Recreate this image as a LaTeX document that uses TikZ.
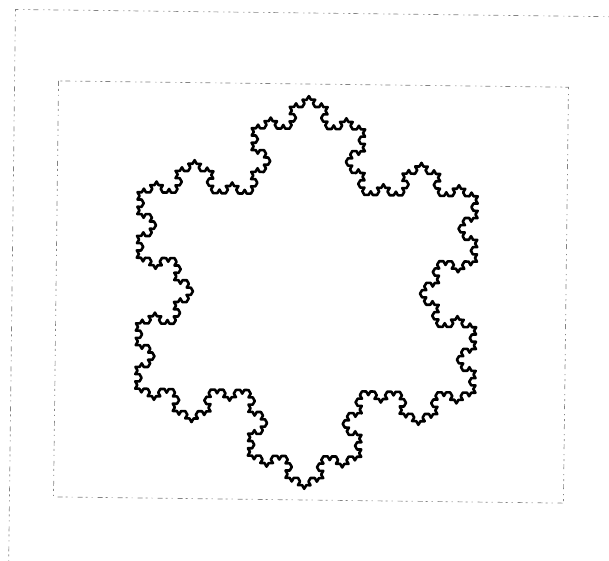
\documentclass[tikz,border=0pt]{standalone}
\usetikzlibrary{decorations.fractals}
\definecolor{scangray}{RGB}{130,130,130}
\tikzstyle{frame} = [draw=scangray, line width=0.7pt, dash pattern=on 5pt off 3pt on 2pt off 4pt on 1pt off 5pt]
\tikzstyle{flake} = [draw=black, line width=2.6pt, line join=round, line cap=round,
                     decoration=Koch snowflake]

\begin{document}
\begin{tikzpicture}[x=1pt, y=-1pt]
\useasboundingbox (0,0) rectangle (609,560);

% the scan is turned a little
\begin{scope}[rotate around={-0.7:(306.5,292.5)}]

% Outer frame (cut off at right and bottom)
\coordinate (outerTR) at (615,13);
\coordinate (outerTL) at (12,13);
\coordinate (outerBL) at (12,565);
\draw[frame] (outerTR) -- (outerTL) -- (outerBL);

% Inner frame
\coordinate (innerNW) at (56,84);
\coordinate (innerSE) at (566,500);
\draw[frame] (innerNW) rectangle (innerSE);

% Snowflake
\coordinate (centre) at (306.5,292.5);
\begin{scope}[shift={(centre)}]
    \coordinate (tipN) at (90:196.5pt);
    \coordinate (tipSE) at (330:196.5pt);
    \coordinate (tipSW) at (210:196.5pt);
    \draw[flake] decorate{decorate{decorate{decorate{
        (tipN) -- (tipSE) -- (tipSW) -- (tipN) }}}};
\end{scope}

\end{scope}

\end{tikzpicture}
\end{document}
